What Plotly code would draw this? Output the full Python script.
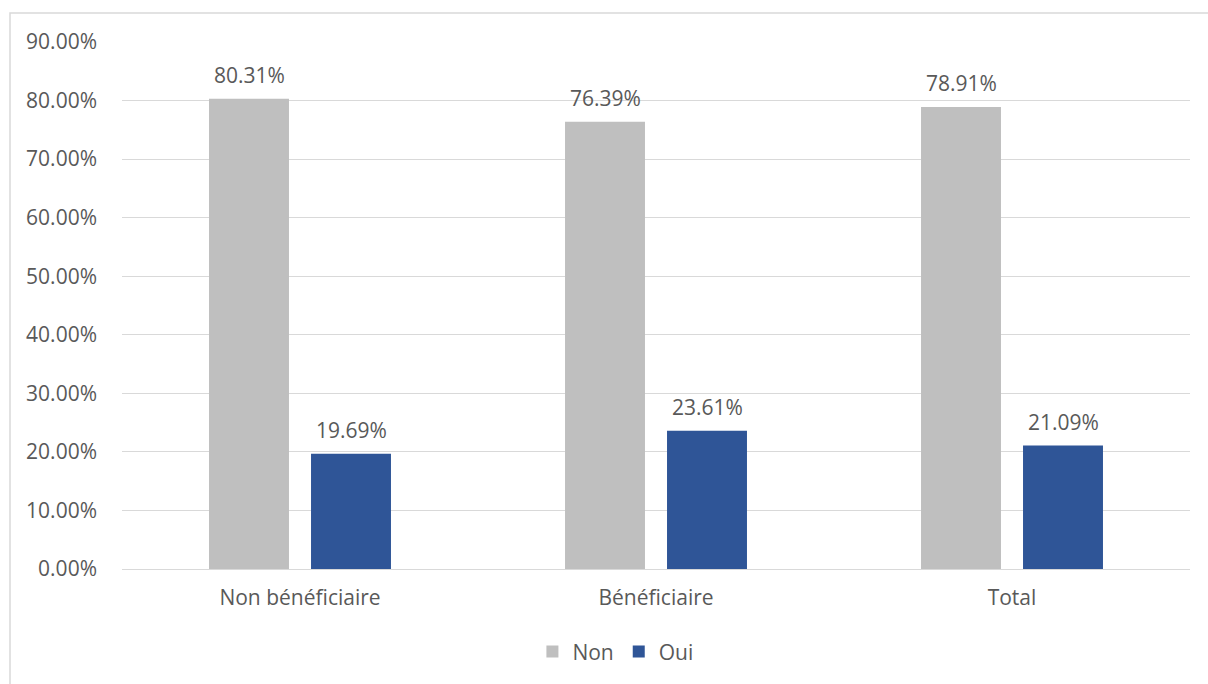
import plotly.graph_objects as go

categories = ["Non bénéficiaire", "Bénéficiaire", "Total"]
non_values = [80.31, 76.39, 78.91]
oui_values = [19.69, 23.61, 21.09]
series_names = ["Non", "Oui"]
tick_values = [0, 10, 20, 30, 40, 50, 60, 70, 80, 90]
tick_labels = [f"{v:.2f}%" for v in tick_values]

FONT = "Open Sans"
FS = 21
TXT = "#595959"
GRID = "#d9d9d9"

fig = go.Figure()
fig.add_trace(go.Bar(x=categories, y=non_values, name=series_names[0],
                     marker=dict(color="#bfbfbf", line=dict(width=0))))
fig.add_trace(go.Bar(x=categories, y=oui_values, name=series_names[1],
                     marker=dict(color="#2f5597", line=dict(width=0))))

annotations = []
for vals, shift in ((non_values, -51), (oui_values, 51)):
    for c, v in zip(categories, vals):
        annotations.append(dict(x=c, y=v, xref="x", yref="y", text=f"{v:.2f}%",
                                showarrow=False, xshift=shift, yshift=8,
                                yanchor="bottom", font=dict(family=FONT, size=FS, color=TXT)))

fig.update_layout(
    width=1208, height=684,
    margin=dict(l=122, r=18, t=42, b=115),
    paper_bgcolor="white", plot_bgcolor="white",
    barmode="group", bargap=0.427, bargroupgap=0.216,
    font=dict(family=FONT, size=FS, color=TXT),
    xaxis=dict(showgrid=False, showline=False, ticks="", ticklabelstandoff=14,
               tickfont=dict(size=FS, color=TXT)),
    yaxis=dict(range=[0, 90], tickmode="array", tickvals=tick_values, ticktext=tick_labels,
               showgrid=True, gridcolor=GRID, gridwidth=1,
               zeroline=True, zerolinecolor=GRID, zerolinewidth=1,
               showline=False, ticks="", ticklabelstandoff=24,
               tickfont=dict(size=FS, color=TXT)),
    legend=dict(orientation="h", x=0.462, xanchor="center", y=-0.157, yanchor="middle",
                font=dict(size=FS, color=TXT), itemwidth=30, traceorder="normal"),
    annotations=annotations,
    shapes=[dict(type="rect", xref="paper", yref="paper",
                 x0=(10 - 122) / 1068, x1=(1230 - 122) / 1068,
                 y0=(569 - 720) / 527, y1=(569 - 13) / 527,
                 line=dict(color=GRID, width=1.5), fillcolor="rgba(0,0,0,0)", layer="below")],
)

fig.write_html("out.html")
